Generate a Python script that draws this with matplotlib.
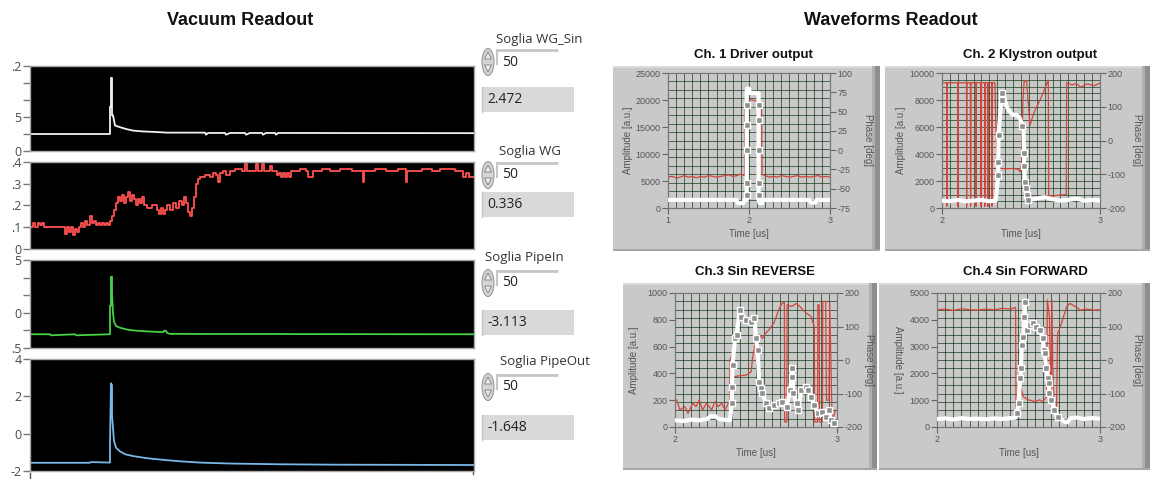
import numpy as np
import matplotlib
matplotlib.use("Agg")
import matplotlib.pyplot as plt
from matplotlib.patches import Rectangle, Ellipse, Polygon

plt.rcParams['font.family'] = ['Open Sans', 'DejaVu Sans']

# ---------------- Vacuum strip charts (x = sample index) ----------------
wgsin_x = [0, 80, 80, 81, 81, 82, 82, 83, 85, 90, 97, 103, 113, 125, 137, 175, 176, 178,
           195, 196, 200, 215, 216, 220, 232, 233, 236, 245, 246, 248, 444]
wgsin_v = [1.0, 1.0, 2.6, 2.6, 4.3, 4.3, 2.1, 2.1, 1.5, 1.4, 1.28, 1.2, 1.15, 1.12, 1.08, 1.08,
           0.96, 1.06, 1.06, 0.96, 1.06, 1.06, 0.96, 1.06, 1.06, 0.96, 1.06, 1.06, 0.96, 1.06, 1.05]

wg_x = [0, 3, 5, 8, 10, 12, 14, 16, 35, 37, 39, 41, 43, 45, 47, 49, 51, 53, 55, 57, 60, 62, 64,
        66, 68, 70, 72, 74, 76, 78, 80, 82, 84, 86, 88, 90, 92, 94, 96, 98, 100, 102, 104, 106,
        108, 110, 112, 114, 117, 122, 127, 129, 131, 133, 135, 137, 140, 143, 146, 149, 152, 154,
        156, 158, 160, 162, 164, 166, 168, 170, 175, 180, 183, 186, 188, 190, 193, 196, 200, 205,
        212, 215, 217, 226, 228, 232, 234, 240, 242, 247, 249, 251, 253, 255, 257, 259, 261, 270,
        276, 278, 283, 292, 300, 310, 322, 333, 334, 345, 356, 368, 376, 377, 392, 402, 410, 425,
        433, 436, 439, 444]
wg_v = [0.10, 0.12, 0.10, 0.12, 0.11, 0.12, 0.10, 0.10, 0.07, 0.10, 0.08, 0.10, 0.065, 0.09,
        0.08, 0.10, 0.12, 0.10, 0.13, 0.11, 0.15, 0.12, 0.13, 0.11, 0.12, 0.11, 0.12, 0.11, 0.12,
        0.11, 0.13, 0.15, 0.18, 0.21, 0.24, 0.22, 0.25, 0.21, 0.24, 0.26, 0.22, 0.25, 0.23, 0.20,
        0.23, 0.21, 0.24, 0.20, 0.19, 0.20, 0.18, 0.16, 0.19, 0.16, 0.18, 0.20, 0.18, 0.21, 0.19,
        0.22, 0.20, 0.24, 0.21, 0.17, 0.15, 0.19, 0.24, 0.30, 0.32, 0.33, 0.34, 0.33, 0.35, 0.34,
        0.31, 0.35, 0.36, 0.34, 0.36, 0.37, 0.36, 0.39, 0.36, 0.39, 0.36, 0.39, 0.36, 0.38, 0.36,
        0.34, 0.35, 0.33, 0.35, 0.33, 0.35, 0.33, 0.36, 0.37, 0.36, 0.33, 0.36, 0.37, 0.36, 0.37,
        0.36, 0.31, 0.36, 0.37, 0.36, 0.37, 0.31, 0.36, 0.37, 0.36, 0.37, 0.36, 0.33, 0.35, 0.33,
        0.33]

pin_x = [0, 20, 21, 45, 46, 80, 80, 81, 81, 82, 82, 83, 84, 86, 90, 97, 103, 115, 125, 133,
         134, 136, 137, 140, 444]
pin_v = [0.78, 0.78, 0.72, 0.78, 0.72, 0.78, 2.4, 2.4, 4.05, 4.05, 3.1, 2.0, 1.5, 1.25, 1.15,
         1.05, 1.0, 0.95, 0.92, 0.9, 0.98, 0.98, 0.86, 0.8, 0.78]

pout_x = [0, 60, 61, 80, 80, 81, 82, 82, 83, 84, 86, 90, 95, 103, 115, 125, 137, 150, 170,
          200, 250, 300, 444]
pout_v = [-1.56, -1.56, -1.52, -1.55, -0.5, 2.7, 2.6, 1.0, 0.3, -0.4, -0.75, -0.95, -1.1, -1.2,
          -1.3, -1.36, -1.42, -1.48, -1.55, -1.6, -1.64, -1.66, -1.68]

strip_names = ['Soglia WG_Sin', 'Soglia WG', 'Soglia PipeIn', 'Soglia PipeOut']
strip_thresholds = ['50', '50', '50', '50']
strip_readouts = ['2.472', '0.336', '-3.113', '-1.648']

# ---------------- Waveform scopes ----------------
drv_t = [1.00, 1.85, 1.86, 1.93, 1.94, 1.972, 1.972, 1.975, 2.00, 2.01, 2.118, 2.118, 2.13,
         2.16, 2.17, 2.75, 2.76, 2.82, 2.83, 3.00]
drv_amp = [1500, 1500, 900, 900, 1500, 1500, 21300, 22100, 22100, 21300, 21300, 1500, 900,
           900, 1500, 1500, 1000, 1000, 1500, 1500]
drv_mark_t = [1.972, 1.972, 1.972, 1.972, 1.972, 2.118, 2.118, 2.118, 2.118, 2.118]
drv_mark_a = [2400, 4600, 10700, 15400, 19100, 19100, 16300, 10700, 4600, 2400]
drv_ph_t = [1.00, 1.05, 1.10, 1.15, 1.20, 1.25, 1.30, 1.35, 1.40, 1.45, 1.50, 1.55, 1.60, 1.65,
            1.70, 1.75, 1.80, 1.85, 1.90, 1.945, 1.95, 1.96, 2.00, 2.05, 2.10, 2.14, 2.155,
            2.16, 2.17, 2.20, 2.25, 2.30, 2.35, 2.40, 2.45, 2.50, 2.55, 2.60, 2.65, 2.70, 2.75,
            2.80, 2.85, 2.90, 2.95, 3.00]
drv_ph = [-35, -34, -36, -35, -33, -35, -34, -36, -34, -35, -33, -34, -35, -34, -33, -32, -34,
          -33, -31, -33, 60, 64, 65, 65, 63, 60, 55, -30, -32, -33, -35, -34, -35, -33, -34,
          -35, -34, -33, -35, -34, -35, -34, -33, -35, -34, -35]

kly_t = [2.00, 2.05, 2.10, 2.15, 2.20, 2.25, 2.30, 2.34, 2.356, 2.356, 2.358, 2.375, 2.388,
         2.409, 2.43, 2.45, 2.47, 2.49, 2.504, 2.515, 2.519, 2.52, 2.525, 2.536, 2.557, 2.60,
         2.65, 2.70, 2.75, 2.80, 2.85, 2.90, 2.95, 3.00]
kly_amp = [550, 500, 600, 500, 550, 600, 500, 550, 2400, 3400, 5400, 8000, 8500, 7500, 7100,
           6900, 6900, 6700, 6300, 6000, 4100, 3100, 1900, 1000, 600, 700, 800, 650, 550, 600,
           700, 550, 600, 550]
kly_mark_t = [2.356, 2.356, 2.358, 2.378, 2.382, 2.504, 2.519, 2.52, 2.525, 2.53, 2.536, 2.545]
kly_mark_a = [2440, 3400, 5400, 8500, 8000, 6100, 4100, 3100, 1900, 1500, 1000, 600]
kly_ph_t = [2.000, 2.030, 2.031, 2.033, 2.100, 2.101, 2.103, 2.155, 2.156, 2.158, 2.180, 2.181,
            2.183, 2.215, 2.216, 2.218, 2.245, 2.246, 2.248, 2.270, 2.271, 2.273, 2.290, 2.291,
            2.293, 2.315, 2.316, 2.318, 2.335, 2.340, 2.350, 2.36, 2.40, 2.44, 2.48, 2.495,
            2.505, 2.512, 2.52, 2.535, 2.557, 2.58, 2.60, 2.62, 2.64, 2.66, 2.673, 2.675, 2.72,
            2.787, 2.789, 2.82, 2.85, 2.88, 2.92, 2.96, 3.00]
kly_ph = [171, 171, -195, 171, 171, -195, 171, 171, -195, 171, 171, -195, 171, 171, -195, 171,
          171, -195, 171, 171, -195, 171, 171, -195, 171, 171, -195, 171, 171, 60, -75, -82,
          -84, -83, -85, -93, -60, 120, 175, 178, 45, 80, 100, 120, 140, 165, 178, -165, -163,
          -160, 172, 165, 168, 158, 168, 162, 170]

rev_t = [2.00, 2.05, 2.10, 2.15, 2.20, 2.22, 2.25, 2.27, 2.30, 2.34, 2.35, 2.352, 2.355, 2.37,
         2.38, 2.40, 2.41, 2.44, 2.47, 2.49, 2.50, 2.51, 2.52, 2.53, 2.54, 2.56, 2.58, 2.61,
         2.64, 2.66, 2.69, 2.71, 2.72, 2.725, 2.73, 2.75, 2.76, 2.78, 2.81, 2.82, 2.84, 2.86,
         2.88, 2.91, 2.93, 2.95, 2.96, 2.98]
rev_amp = [50, 45, 55, 50, 60, 80, 80, 60, 55, 50, 177, 301, 463, 662, 687, 873, 823, 798, 786,
           811, 662, 575, 338, 289, 251, 177, 139, 164, 177, 189, 150, 276, 375, 438, 251, 177,
           127, 276, 301, 276, 226, 164, 102, 114, 77, 127, 52, 30]
rev_ph_t = [2.000, 2.002, 2.01, 2.03, 2.06, 2.08, 2.11, 2.13, 2.15, 2.17, 2.195, 2.226, 2.247,
            2.267, 2.288, 2.309, 2.33, 2.338, 2.34, 2.35, 2.36, 2.40, 2.44, 2.47, 2.48, 2.50,
            2.52, 2.54, 2.56, 2.58, 2.61, 2.64, 2.66, 2.675, 2.677, 2.69, 2.692, 2.72, 2.75,
            2.78, 2.81, 2.84, 2.86, 2.862, 2.88, 2.882, 2.89, 2.892, 2.91, 2.912, 2.93, 2.935,
            2.95, 2.955, 2.97, 2.99]
rev_ph = [200, -119, -119, -149, -139, -159, -129, -139, -119, -149, -129, -149, -124, -139,
          -129, -149, -129, -120, 0, 15, -50, -47, -45, -35, 10, 60, 75, 65, 80, 90, 110, 149,
          169, 172, -185, -185, 165, 160, 169, 155, 140, 130, 99, -185, -185, 165, 165, -185,
          -185, 175, 175, -120, -120, 170, -185, -150]

fwd_t = [2.00, 2.05, 2.10, 2.15, 2.20, 2.25, 2.30, 2.35, 2.40, 2.45, 2.48, 2.489, 2.50, 2.51,
         2.515, 2.52, 2.53, 2.535, 2.538, 2.55, 2.57, 2.59, 2.61, 2.63, 2.65, 2.655, 2.66, 2.67,
         2.68, 2.685, 2.69, 2.70, 2.72, 2.74, 2.78, 2.80, 2.82, 2.86, 2.90, 2.95, 3.00]
fwd_amp = [300, 320, 280, 330, 300, 310, 290, 320, 300, 330, 350, 511, 884, 1816, 2189, 3059,
           3368, 4114, 4673, 3618, 3805, 3867, 3742, 3618, 3307, 2872, 2748, 2189, 1816, 1630,
           1257, 1007, 634, 384, 200, 180, 330, 350, 300, 330, 310]
fwd_ph_t = [2.00, 2.05, 2.10, 2.15, 2.20, 2.25, 2.30, 2.35, 2.40, 2.45, 2.482, 2.485, 2.50,
            2.513, 2.53, 2.56, 2.60, 2.63, 2.65, 2.672, 2.677, 2.69, 2.70, 2.705, 2.71, 2.72,
            2.733, 2.74, 2.75, 2.77, 2.795, 2.816, 2.85, 2.88, 2.92, 2.96, 3.00]
fwd_ph = [150, 152, 148, 153, 150, 149, 152, 150, 154, 152, 157, -159, -100, -80, -110, -119,
          -124, -119, -124, -110, 179, 129, -139, 179, -20, -159, -159, 80, 90, 119, 159, 169,
          159, 149, 152, 149, 150]

# ---------------- figure ----------------
W, H = 1152, 479
fig = plt.figure(figsize=(W / 100, H / 100), dpi=100)
fig.patch.set_facecolor('white')

bg = fig.add_axes([0, 0, 1, 1], zorder=0)
bg.set_xlim(0, W)
bg.set_ylim(H, 0)
bg.axis('off')


def px_axes(x0, y0, x1, y1, z=2):
    return fig.add_axes([x0 / W, 1 - y1 / H, (x1 - x0) / W, (y1 - y0) / H], zorder=z)


TITLE_FONT = ['Liberation Sans', 'DejaVu Sans']
TICK_FONT = ['Liberation Sans', 'DejaVu Sans']
bg.text(240, 20, 'Vacuum Readout', ha='center', va='center', fontsize=13,
        fontweight='bold', family=TITLE_FONT, color='#111')
bg.text(891, 20, 'Waveforms Readout', ha='center', va='center', fontsize=13,
        fontweight='bold', family=TITLE_FONT, color='#111')


def strip(rect, x, y, color, ylim, ticks, labels, steps=False):
    ax = px_axes(*rect)
    ax.set_facecolor('black')
    ax.plot(x, y, color=color, lw=1.3, drawstyle='steps-post' if steps else 'default')
    ax.set_xlim(0, 444)
    ax.set_ylim(*ylim)
    ax.set_xticks([])
    ax.set_yticks(ticks)
    ax.set_yticklabels(labels)
    ax.tick_params(axis='y', length=5, width=1, color='#777', labelsize=9,
                   labelcolor='#4a4a4a', pad=1)
    for s in ax.spines.values():
        s.set_color('#a8a8a8')
        s.set_linewidth(1.0)
    return ax


strip((30, 66, 474, 151), wgsin_x, wgsin_v, '#f2f2f2', (0, 5), [0, 1, 2, 3, 4, 5],
      ['0', '', '5', '', '', '.2'])
strip((30, 162, 474, 249), wg_x, wg_v, '#ff5050', (0, 0.4), [0, 0.1, 0.2, 0.3, 0.4],
      ['0', '.1', '.2', '.3', '.4'], steps=True)
strip((30, 260, 474, 348), pin_x, pin_v, '#45d045', (0, 5), [0, 1, 2, 3, 4, 5],
      ['.5', '', '0', '', '', '5'])
strip((30, 359, 474, 471), pout_x, pout_v, '#78b8e8', (-2, 4), [-2, 0, 2, 4],
      ['-2', '0', '2', '4'])
bg.plot([30, 30], [473, 479], color='#555', lw=1)
bg.plot([473, 473], [468, 474], color='#555', lw=1)


def control(label, lx, ly, sy, thr, value, by):
    bg.text(lx, ly, label, fontsize=9.5, color='#333', va='center', ha='left')
    bg.add_patch(Ellipse((488, sy), 12, 27, fc='#d4d4d4', ec='#9c9c9c', lw=0.8))
    bg.add_patch(Polygon([[484.5, sy - 3], [488, sy - 10], [491.5, sy - 3]], closed=True,
                         fc='#efefef', ec='#8a8a8a', lw=0.7))
    bg.add_patch(Polygon([[484.5, sy + 3], [488, sy + 10], [491.5, sy + 3]], closed=True,
                         fc='#efefef', ec='#8a8a8a', lw=0.7))
    bg.plot([497, 558], [sy - 12, sy - 12], color='#c6c6c6', lw=2.0, solid_capstyle='butt')
    bg.plot([497, 497], [sy - 12, sy + 2], color='#c6c6c6', lw=1.5)
    bg.text(502, sy, thr, fontsize=10, color='#222', va='center')
    bg.add_patch(Rectangle((482, by), 92, 25, fc='#d9d9d9', ec='none'))
    bg.plot([482, 482], [by, by + 25], color='#c4c4c4', lw=1)
    bg.text(487, by + 12.5, value, fontsize=10, va='center', color='#222')


ctrl_layout = [(496, 39, 62, 87), (499, 152, 175, 192), (485, 258, 283, 310), (500, 362, 387, 415)]
for name, thr, val, (lx, ly, sy, by) in zip(strip_names, strip_thresholds, strip_readouts, ctrl_layout):
    control(name, lx, ly, sy, thr, val, by)


def scope(panel, rect, title, title_xy, xlim, xticks, amp_lim, amp_step, ph_lim, ph_step,
          t, a, mt, ma, pt, pv, ylab_x, ylab_rot, ph_lab_x, ny):
    x0, y0, x1, y1 = panel
    bg.add_patch(Rectangle((x0, y0), x1 - x0, y1 - y0, fc='#c9c9c9', ec='none'))
    bg.add_patch(Rectangle((x0, y0), x1 - x0, 2, fc='#dadada', ec='none'))
    bg.add_patch(Rectangle((x1 - 5, y0), 5, y1 - y0, fc='#8e8e8e', ec='none'))
    bg.add_patch(Rectangle((x1 - 8, y0), 3, y1 - y0, fc='#b0b0b0', ec='none'))
    bg.add_patch(Rectangle((x0, y1 - 2), x1 - x0, 2, fc='#a6a6a6', ec='none'))
    bg.text(title_xy[0], title_xy[1], title, ha='center', va='center', fontsize=9.5,
            fontweight='bold', family=TITLE_FONT, color='#111')

    ax = px_axes(*rect, z=3)
    ax2 = ax.twinx()
    ax2.set_zorder(2)
    ax.set_zorder(3)
    ax.patch.set_visible(False)
    ax2.set_facecolor('black')

    ax.set_xlim(*xlim)
    ax.set_ylim(*amp_lim)
    ax2.set_ylim(*ph_lim)

    # graticule
    for gx in np.linspace(xlim[0], xlim[1], 21)[1:-1]:
        ax2.axvline(gx, color='#173d1d', lw=0.5, zorder=0)
    for gy in np.linspace(ph_lim[0], ph_lim[1], ny + 1)[1:-1]:
        ax2.axhline(gy, color='#173d1d', lw=0.5, zorder=0)

    ax2.plot(pt, pv, color='#d2443c', lw=0.9, zorder=2)
    ax.plot(t, a, color='white', lw=3.0, solid_joinstyle='round', zorder=3)
    ax.plot(mt, ma, 's', ms=4.0, mfc='#8f8f8f', mec='white', mew=1.0, zorder=4)

    ax.set_xticks(xticks)
    ax.set_xticklabels([str(v) for v in xticks])
    amp_ticks = np.arange(amp_lim[0], amp_lim[1] + 1, amp_step)
    ax.set_yticks(amp_ticks)
    ax.set_yticklabels([str(int(v)) for v in amp_ticks])
    ph_ticks = np.arange(ph_lim[0], ph_lim[1] + 1, ph_step)
    ax2.set_yticks(ph_ticks)
    ax2.set_yticklabels([str(int(v)) for v in ph_ticks])
    ax.tick_params(axis='both', labelsize=6.5, colors='#666', labelcolor='#555', length=4,
                   width=0.8, pad=1.5, labelfontfamily=TICK_FONT)
    ax2.tick_params(axis='y', labelsize=6.5, colors='#666', labelcolor='#555', length=4,
                    width=0.8, pad=1.5, labelfontfamily=TICK_FONT)
    for a_ in (ax, ax2):
        for s in a_.spines.values():
            s.set_color('#777')
            s.set_linewidth(0.8)
    ax.set_xlabel('Time [us]', fontsize=7, color='#555', labelpad=3, family=TICK_FONT)
    cy = (rect[1] + rect[3]) / 2
    bg.text(ylab_x, cy, 'Amplitude [a.u.]', rotation=ylab_rot, ha='center', va='center',
            fontsize=7, color='#555', family=TICK_FONT)
    bg.text(ph_lab_x, cy, 'Phase [deg]', rotation=-90, ha='center', va='center',
            fontsize=7, color='#555', family=TICK_FONT)


scope((613, 66, 880, 251), (668, 73, 830, 208), 'Ch. 1 Driver output', (753, 55), (1, 3),
      [1, 2, 3], (0, 25000), 5000, (-75, 100), 25, drv_t, drv_amp, drv_mark_t, drv_mark_a,
      drv_ph_t, drv_ph, 628, 90, 868, 16)
scope((885, 66, 1150, 251), (942, 73, 1100, 208), 'Ch. 2 Klystron output', (1030, 55), (2, 3),
      [2, 3], (0, 10000), 2000, (-200, 200), 100, kly_t, kly_amp, kly_mark_t, kly_mark_a,
      kly_ph_t, kly_ph, 901, 90, 1137, 20)
scope((623, 283, 877, 470), (675, 293, 837, 427), 'Ch.3 Sin REVERSE', (755, 272), (2, 3),
      [2, 3], (0, 1000), 200, (-200, 200), 100, rev_t, rev_amp, rev_t[10:], rev_amp[10:],
      rev_ph_t, rev_ph, 634, 90, 869, 16)
scope((879, 283, 1150, 470), (937, 293, 1100, 427), 'Ch.4 Sin FORWARD', (1025, 272), (2, 3),
      [2, 3], (0, 5000), 1000, (-200, 200), 100, fwd_t, fwd_amp, fwd_t[11:34], fwd_amp[11:34],
      fwd_ph_t, fwd_ph, 898, -90, 1137, 16)

fig.savefig('out.png', dpi=100, facecolor='white')
